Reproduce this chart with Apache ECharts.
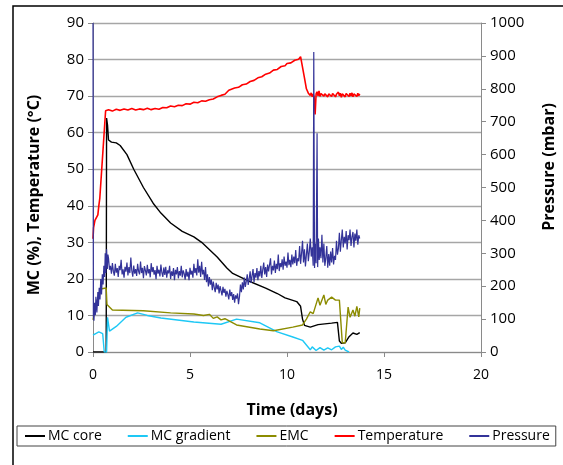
<!DOCTYPE html>
<html>
<head>
<meta charset="utf-8">
<script src="https://cdn.jsdelivr.net/npm/echarts@6/dist/echarts.min.js"></script>
<style>
  html, body { margin: 0; padding: 0; background: #fff; }
  #chart { width: 563px; height: 465px; }
</style>
</head>
<body>
<div id="chart"></div>
<script>
// Kiln drying run: moisture content, temperature and pressure over time
const seriesNames = ['MC core', 'MC gradient', 'EMC', 'Temperature', 'Pressure'];
const leftTicks = { min: 0, max: 90, interval: 10 };
const rightTicks = { min: 0, max: 1000, interval: 100 };
const timeTicks = { min: 0, max: 20, interval: 5 };

// [day, %]
const mcCore = [
  [0, 0], [0.68, 0], [0.7, 64], [0.75, 62], [0.8, 58], [0.95, 57.4], [1.2, 57.2], [1.4, 56.5],
  [1.75, 54], [2.1, 50], [2.6, 45], [3.1, 40.7], [3.5, 38], [4.0, 35.3], [4.6, 33], [5.2, 31.5],
  [5.6, 30], [6.4, 26], [6.9, 23], [7.2, 21.5], [7.9, 19.7], [8.9, 17.5], [9.5, 16], [9.9, 14.8],
  [10.5, 13.8], [10.7, 12.5], [10.8, 9], [10.9, 7.3], [11.2, 6.8], [11.6, 7.5], [12.3, 7.9],
  [12.6, 8.1], [12.7, 3], [12.8, 2.4], [13.0, 2.5], [13.2, 4.2], [13.4, 5.2], [13.6, 4.8], [13.75, 5.3]
];

// [day, %]
const mcGradient = [
  [0, 4.6], [0.1, 5], [0.3, 5.5], [0.4, 6], [0.5, 5], [0.58, 0], [0.7, 0], [0.75, 9.5], [0.85, 5.7],
  [1.2, 7], [1.7, 9.5], [2.3, 10.7], [2.8, 10], [3.5, 9.3], [5.2, 8.2], [6.6, 7.6], [7.4, 9],
  [8.6, 8], [9.5, 5.5], [10.3, 4.1], [10.8, 3.2], [11.0, 1.9], [11.2, 0.6], [11.3, 1.4], [11.5, 0.4],
  [11.7, 1.2], [11.9, 0.5], [12.1, 1.1], [12.3, 0.6], [12.5, 1.4], [12.7, 1.6], [12.8, 0.7],
  [12.9, 1.3], [13.0, 0.5], [13.2, 0]
];

// [day, %]
const emc = [
  [0, 8.8], [0.1, 12], [0.2, 14], [0.45, 17.3], [0.68, 17.5], [0.72, 13], [0.8, 12.5], [1.0, 11.5],
  [2.6, 11.3], [4.0, 10.7], [5.2, 10.4], [5.7, 10], [6.0, 10.3], [6.2, 9.2], [6.4, 9.6], [6.6, 8.8],
  [6.8, 9.1], [7.4, 7.4], [8.6, 6.3], [9.3, 5.8], [10.3, 6.8], [10.8, 7.4], [11.0, 9], [11.2, 11],
  [11.35, 10.5], [11.6, 14.8], [11.7, 12.8], [11.9, 15.6], [12.0, 13], [12.1, 14.2], [12.3, 15],
  [12.5, 14.2], [12.7, 14.2], [12.85, 2.5], [13.0, 2.5], [13.15, 12.3], [13.25, 9.5], [13.4, 11.5],
  [13.5, 9.8], [13.6, 12.5], [13.7, 9.6], [13.75, 12]
];

// [day, °C]
const temperature = [
  [0, 31], [0.03, 34], [0.1, 36], [0.25, 37.5], [0.3, 40], [0.35, 42], [0.45, 50], [0.55, 58],
  [0.65, 66], [0.8, 66.3], [1.0, 65.9], [1.2, 66.4], [1.4, 66.1], [1.6, 66.5], [1.8, 66.2],
  [2.0, 66.6], [2.2, 66.2], [2.4, 66.5], [2.6, 66.3], [2.8, 66.7], [3.0, 66.3], [3.2, 66.6],
  [3.4, 66.4], [3.6, 66.9], [3.8, 66.8], [4.0, 67.3], [4.2, 67.1], [4.4, 67.5], [4.6, 67.4],
  [4.8, 67.9], [5.0, 67.8], [5.2, 68.3], [5.4, 68.2], [5.6, 68.7], [5.8, 68.6], [6.0, 69.0],
  [6.2, 69.2], [6.4, 69.8], [6.6, 70.2], [6.8, 70.5], [6.9, 70.9], [7.0, 71.6], [7.1, 71.3],
  [7.3, 72.2], [7.5, 72.4], [7.7, 73.1], [7.9, 73.3], [8.1, 74.0], [8.3, 74.3], [8.5, 75.0],
  [8.7, 75.3], [8.9, 76.0], [9.1, 76.3], [9.3, 77.1], [9.5, 77.3], [9.7, 78.1], [9.9, 78.3],
  [10.0, 78.9], [10.2, 79.1], [10.4, 79.8], [10.6, 80.1], [10.7, 80.8], [10.8, 80.4], [10.9, 75],
  [11.0, 72], [11.05, 71.5], [11.1, 70.8], [11.15, 71.3], [11.2, 70.2], [11.25, 70.9], [11.3, 69.8],
  [11.35, 70.6], [11.4, 69.6], [11.45, 65], [11.5, 70.6], [11.55, 71.2], [11.6, 70.1], [11.65, 71.4],
  [11.7, 69.9], [11.75, 70.7], [11.8, 70.3], [11.85, 71.0], [11.9, 70.0], [11.95, 70.6], [12.0, 70.2],
  [12.05, 70.9], [12.1, 69.8], [12.15, 70.6], [12.2, 70.1], [12.25, 71.0], [12.3, 69.9], [12.35, 70.7],
  [12.4, 70.2], [12.45, 70.9], [12.5, 69.8], [12.55, 70.5], [12.6, 70.0], [12.65, 71.1], [12.7, 70.1],
  [12.75, 70.8], [12.8, 69.7], [12.85, 70.6], [12.9, 70.1], [12.95, 71.0], [13.0, 69.8], [13.05, 70.7],
  [13.1, 70.2], [13.15, 71.0], [13.2, 69.9], [13.25, 70.8], [13.3, 70.0], [13.35, 70.9], [13.4, 69.8],
  [13.45, 70.6], [13.5, 70.2], [13.55, 71.0], [13.6, 69.9], [13.65, 70.8], [13.7, 70.1], [13.75, 70.6]
];

// [day, mbar]
const pressure = [
  [0, 1000], [0.02, 110], [0.05, 95], [0.08, 150], [0.12, 112], [0.15, 168], [0.2, 120], [0.25, 182],
  [0.28, 140], [0.32, 195], [0.36, 160], [0.4, 222], [0.44, 175], [0.48, 236], [0.52, 205], [0.56, 262],
  [0.6, 228], [0.63, 300], [0.66, 240], [0.7, 312], [0.74, 252], [0.77, 296],
  [0.80, 285], [0.85, 250], [0.90, 262], [0.95, 238], [1.00, 270], [1.05, 245], [1.10, 232], [1.15, 268], [1.20, 241], [1.25, 255],
  [1.30, 228], [1.35, 262], [1.40, 249], [1.45, 280], [1.50, 236], [1.55, 251], [1.60, 226], [1.65, 259], [1.70, 244], [1.75, 272],
  [1.80, 233], [1.85, 258], [1.90, 240], [1.95, 287], [2.00, 247], [2.05, 229], [2.10, 263], [2.15, 238], [2.20, 252], [2.25, 231],
  [2.30, 268], [2.35, 245], [2.40, 236], [2.45, 275], [2.50, 240], [2.55, 256], [2.60, 224], [2.65, 261], [2.70, 248], [2.75, 233],
  [2.80, 265], [2.85, 239], [2.90, 252], [2.95, 227], [3.00, 270], [3.05, 243], [3.10, 258], [3.15, 235], [3.20, 249], [3.25, 221],
  [3.30, 262], [3.35, 238], [3.40, 250], [3.45, 230], [3.50, 266], [3.55, 241], [3.60, 228], [3.65, 257], [3.70, 234], [3.75, 259],
  [3.80, 226], [3.85, 248], [3.90, 239], [3.95, 262], [4.00, 222], [4.05, 245], [4.10, 231], [4.15, 255], [4.20, 218], [4.25, 250],
  [4.30, 236], [4.35, 258], [4.40, 224], [4.45, 246], [4.50, 232], [4.55, 262], [4.60, 227], [4.65, 248], [4.70, 238], [4.75, 220],
  [4.80, 252], [4.85, 229], [4.90, 244], [4.95, 218], [5.00, 256], [5.05, 235], [5.10, 247], [5.15, 226], [5.20, 268], [5.25, 240],
  [5.30, 255], [5.35, 233], [5.40, 282], [5.45, 241], [5.50, 262], [5.55, 228], [5.60, 274], [5.65, 236], [5.70, 250], [5.75, 219],
  [5.80, 258], [5.85, 212], [5.90, 236], [5.95, 199], [6.00, 228], [6.05, 205], [6.10, 220], [6.15, 188], [6.20, 214], [6.25, 196],
  [6.30, 182], [6.35, 210], [6.40, 190], [6.45, 205], [6.50, 178], [6.55, 200], [6.60, 186], [6.65, 172], [6.70, 198], [6.75, 180],
  [6.80, 192], [6.85, 168], [6.90, 186], [6.95, 175], [7.00, 160], [7.05, 190], [7.10, 170], [7.15, 182], [7.20, 158], [7.25, 176],
  [7.30, 150], [7.35, 172], [7.40, 162], [7.45, 178], [7.50, 145], [7.55, 168], [7.60, 205], [7.65, 182], [7.70, 212], [7.75, 190],
  [7.80, 226], [7.85, 198], [7.90, 214], [7.95, 236], [8.00, 204], [8.05, 222], [8.10, 245], [8.15, 210], [8.20, 232], [8.25, 252],
  [8.30, 212], [8.35, 240], [8.40, 226], [8.45, 255], [8.50, 218], [8.55, 246], [8.60, 230], [8.65, 262], [8.70, 225], [8.75, 250],
  [8.80, 272], [8.85, 236], [8.90, 258], [8.95, 228], [9.00, 266], [9.05, 245], [9.10, 240], [9.15, 285], [9.20, 236], [9.25, 262],
  [9.30, 248], [9.35, 278], [9.40, 240], [9.45, 268], [9.50, 252], [9.55, 296], [9.60, 246], [9.65, 270], [9.70, 258], [9.75, 282],
  [9.80, 250], [9.85, 290], [9.90, 262], [9.95, 275], [10.00, 256], [10.05, 302], [10.10, 264], [10.15, 280], [10.20, 258], [10.25, 296],
  [10.30, 266], [10.35, 290], [10.40, 270], [10.45, 310], [10.50, 262], [10.55, 285], [10.60, 276], [10.65, 322], [10.70, 268], [10.75, 300],
  [10.80, 338], [10.85, 272], [10.90, 312], [10.95, 260], [11.00, 296], [11.05, 330], [11.10, 276], [11.15, 305], [11.20, 345], [11.25, 290],
  [11.30, 318], [11.35, 262], [11.38, 912], [11.42, 255], [11.46, 330], [11.50, 270], [11.55, 665], [11.58, 258],
  [11.62, 345], [11.66, 280], [11.70, 318], [11.75, 285], [11.80, 356], [11.85, 272], [11.90, 330], [11.95, 262],
  [12.00, 285], [12.05, 322], [12.10, 256], [12.15, 298], [12.20, 262], [12.25, 305], [12.30, 272], [12.35, 316], [12.40, 266], [12.45, 292],
  [12.50, 280], [12.55, 338], [12.60, 296], [12.65, 315], [12.70, 362], [12.75, 305], [12.80, 340], [12.85, 372], [12.90, 318], [12.95, 350],
  [13.00, 330], [13.05, 368], [13.10, 312], [13.15, 355], [13.20, 340], [13.25, 372], [13.30, 322], [13.35, 350], [13.40, 365], [13.45, 318],
  [13.50, 360], [13.55, 338], [13.60, 372], [13.65, 326], [13.70, 355], [13.75, 345]
];

const colors = ['#000000', '#1EC8F5', '#8C8C00', '#FF0000', '#333399'];
const FONT = '"Open Sans", "Noto Sans", sans-serif';
const gridLeft = 93, gridTop = 23, gridRight = 481, gridBottom = 352;

const chart = echarts.init(document.getElementById('chart'), null, { renderer: 'canvas' });

function lineSeries(name, data, color, axisIdx, width) {
  return {
    name: name,
    type: 'line',
    data: data,
    yAxisIndex: axisIdx,
    showSymbol: false,
    symbol: 'none',
    animation: false,
    lineStyle: { color: color, width: width },
    itemStyle: { color: color }
  };
}

chart.setOption({
  animation: false,
  grid: { left: gridLeft, top: gridTop, right: 563 - gridRight, bottom: 465 - gridBottom, containLabel: false },
  xAxis: {
    type: 'value',
    min: timeTicks.min, max: timeTicks.max, interval: timeTicks.interval,
    axisLine: { show: true, lineStyle: { color: '#8a8a8a', width: 1 } },
    axisTick: { show: true, inside: false, length: 5, lineStyle: { color: '#8a8a8a' } },
    axisLabel: { color: '#000', fontFamily: FONT, fontSize: 14, margin: 16 },
    splitLine: { show: false }
  },
  yAxis: [
    {
      type: 'value',
      min: leftTicks.min, max: leftTicks.max, interval: leftTicks.interval,
      axisLine: { show: true, lineStyle: { color: '#8a8a8a', width: 1 } },
      axisTick: { show: true, inside: false, length: 5, lineStyle: { color: '#8a8a8a' } },
      axisLabel: { color: '#000', fontFamily: FONT, fontSize: 15, margin: 9 },
      splitLine: { show: true, lineStyle: { color: '#a6a6a6', width: 1.3 } }
    },
    {
      type: 'value',
      position: 'right',
      min: rightTicks.min, max: rightTicks.max, interval: rightTicks.interval,
      axisLine: { show: true, lineStyle: { color: '#8a8a8a', width: 1 } },
      axisTick: { show: true, inside: false, length: 5, lineStyle: { color: '#8a8a8a' } },
      axisLabel: { color: '#000', fontFamily: FONT, fontSize: 15, margin: 9, formatter: v => String(v) },
      splitLine: { show: false }
    }
  ],
  legend: {
    data: seriesNames,
    left: 17, top: 426,
    width: 545,
    padding: [3, 6, 3, 8],
    borderColor: '#444',
    borderWidth: 1,
    itemGap: 26,
    itemWidth: 20, itemHeight: 2,
    icon: 'rect',
    textStyle: { color: '#000', fontFamily: FONT, fontSize: 14, padding: [0, 0, 0, -2] }
  },
  graphic: [
    { type: 'rect', silent: true, z: -1, shape: { x: 13, y: 6, width: 620, height: 520 },
      style: { fill: 'none', stroke: '#000', lineWidth: 1.5 } },
    { type: 'text', x: 292, y: 410, silent: true,
      style: { text: 'Time (days)', font: 'bold 16px ' + FONT, fill: '#000', textAlign: 'center', textVerticalAlign: 'middle' } },
    { type: 'text', x: 34, y: 195, rotation: Math.PI / 2, silent: true,
      style: { text: 'MC (%), Temperature (°C)', font: 'bold 16px ' + FONT, fill: '#000', textAlign: 'center', textVerticalAlign: 'middle' } },
    { type: 'text', x: 549, y: 167, rotation: Math.PI / 2, silent: true,
      style: { text: 'Pressure (mbar)', font: 'bold 16px ' + FONT, fill: '#000', textAlign: 'center', textVerticalAlign: 'middle' } }
  ],
  series: [
    lineSeries(seriesNames[0], mcCore, colors[0], 0, 1.4),
    lineSeries(seriesNames[1], mcGradient, colors[1], 0, 1.4),
    lineSeries(seriesNames[2], emc, colors[2], 0, 1.4),
    lineSeries(seriesNames[3], temperature, colors[3], 0, 1.6),
    lineSeries(seriesNames[4], pressure, colors[4], 1, 1.2)
  ]
});
</script>
</body>
</html>
